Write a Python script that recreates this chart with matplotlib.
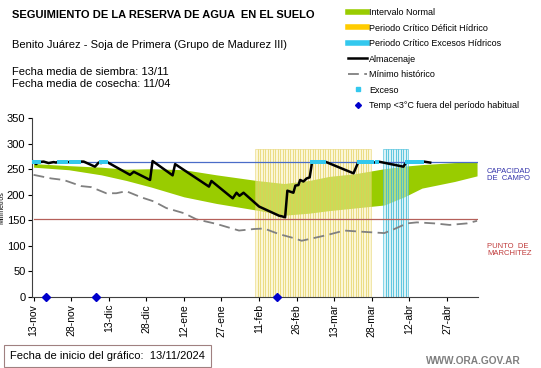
import numpy as np
import matplotlib
matplotlib.use("Agg")
from matplotlib import pyplot as plt
from matplotlib.lines import Line2D

plt.rcParams['font.family'] = ['Liberation Sans', 'DejaVu Sans']

# x axis = days since 13-nov
tick_days = [0, 15, 30, 45, 60, 75, 90, 105, 120, 135, 150, 165]
tick_labels = ['13-nov', '28-nov', '13-dic', '28-dic', '12-ene', '27-ene',
               '11-feb', '26-feb', '13-mar', '28-mar', '12-abr', '27-abr']

# intervalo normal
band_days = [0, 14, 27, 37, 47, 60, 73, 89, 100, 110, 118, 128, 140, 148, 155, 168, 177]
band_hi = [261, 257, 254, 250, 251, 249, 239, 228, 222, 228, 236, 241, 251, 256, 259, 263, 264]
band_lo = [254, 249, 239, 228, 215, 196, 183, 170, 160, 164, 169, 174, 180, 196, 213, 226, 237]

# almacenaje
alm_days = [0, 1, 2, 4, 6, 8, 9, 10, 13, 14, 18, 20, 24.5, 26, 27, 28, 29,
            38.5, 40, 46.5, 47.5, 55.5, 56.5, 70, 71, 79.5, 81, 82.2, 83.8,
            90, 98, 99, 100.4, 101.3, 103.7, 104.5, 105.7, 106.4, 107.7, 109,
            110.2, 111.2, 116.3, 127.7, 129.7, 135, 136, 137.6, 147.6, 149,
            155.7, 158.3]
alm_vals = [265, 260, 264, 265, 262, 264, 263, 265, 265, 264, 265, 265, 255,
            263, 262, 265, 265, 239, 245, 229, 266, 238, 260, 216, 227, 193,
            204, 198, 204, 177, 159, 158, 156, 208, 204, 218, 219, 229, 226,
            232, 234, 265, 265, 242, 265, 265, 263, 265, 255, 265, 265, 263]

# minimo historico
min_days = [0, 7, 12, 19, 23, 29, 33, 37, 43, 48, 53, 60, 65, 73, 82, 88, 92,
            98, 104, 107, 117, 124, 130, 140, 144, 149, 153, 160, 166, 173, 177]
min_vals = [239, 232, 229, 217, 215, 203, 203, 207, 195, 187, 174, 164, 152,
            143, 130, 133, 134, 123, 115, 110, 121, 130, 128, 125, 133, 144,
            146, 144, 141, 144, 149]

# excesos
exc_days = [0, 1, 2, 10, 11, 12, 13, 15, 16, 17, 18, 27, 28, 29,
            111, 112, 113, 114, 115, 116, 130, 131, 132, 133, 134, 135, 137,
            149, 150, 151, 152, 153, 154, 155]

# periodos criticos
def_days = list(range(89, 135))
excper_days = list(range(140, 150))
per_height = 290

# temp < 3C
frost_days = [5, 25, 97]

cc = 265
pmp = 152

fig = plt.figure(figsize=(5.41, 3.68), dpi=100)
ax = fig.add_axes([0.0597, 0.193, 0.8244, 0.486])

ax.fill_between(band_days, band_lo, band_hi, color='#99cc00', lw=0, zorder=1)
ax.bar(def_days, [per_height] * len(def_days), width=1.0, color='#f8eeb0',
       alpha=0.5, edgecolor='#e2cc50', lw=0.6, zorder=2)
ax.bar(excper_days, [per_height] * len(excper_days), width=1.0, color='#bfe8f0',
       alpha=0.55, edgecolor='#30b8d8', lw=0.7, zorder=2)
ax.plot(min_days, min_vals, color='#808080', lw=1.3, dashes=(6, 3), zorder=3)
ax.plot([0, 177], [cc, cc], color='#4a6cc8', lw=0.9, zorder=3)
ax.plot([0, 177], [pmp, pmp], color='#b5605a', lw=0.9, zorder=3)
ax.plot(alm_days, alm_vals, color='black', lw=1.8, zorder=5)
ax.plot(exc_days, [cc] * len(exc_days), ls='none', marker='s', ms=2.2, mew=0,
        color='#33c8ee', zorder=6)
ax.plot(frost_days, [0] * len(frost_days), ls='none', marker='D', ms=4.5,
        color='#0000cc', zorder=7, clip_on=False)

ax.set_xlim(-0.5, 177.5)
ax.set_ylim(0, 350)
ax.set_yticks(range(0, 351, 50))
ax.set_xticks(tick_days)
ax.set_xticklabels(tick_labels, rotation=90, fontsize=7.5)
ax.tick_params(axis='y', labelsize=8, length=3, pad=2)
ax.tick_params(axis='x', length=3, pad=2)
for s in ['top', 'right']:
    ax.spines[s].set_visible(False)
for s in ['left', 'bottom']:
    ax.spines[s].set_color('#404040')
ax.set_ylabel('Milímetros', fontsize=5, labelpad=1)

fig.text(0.022, 0.96, 'SEGUIMIENTO DE LA RESERVA DE AGUA  EN EL SUELO',
         fontsize=8, fontweight='bold', va='center')
fig.text(0.022, 0.877, 'Benito Juárez - Soja de Primera (Grupo de Madurez III)',
         fontsize=8, va='center')
fig.text(0.022, 0.805, 'Fecha media de siembra: 13/11', fontsize=8, va='center')
fig.text(0.022, 0.772, 'Fecha media de cosecha: 11/04', fontsize=8, va='center')

fig.text(0.9, 0.525, 'CAPACIDAD\nDE  CAMPO', fontsize=5.5, color='#3333aa',
         va='center', linespacing=1.1)
fig.text(0.9, 0.32, 'PUNTO  DE\nMARCHITEZ', fontsize=5.5, color='#c03a3a',
         va='center', linespacing=1.1)

handles = [
    Line2D([], [], color='#99cc00', lw=4),
    Line2D([], [], color='#ffcc00', lw=4),
    Line2D([], [], color='#33c8ee', lw=4),
    Line2D([], [], color='black', lw=1.8),
    Line2D([], [], color='#808080', lw=1.3, dashes=(6, 3)),
    Line2D([], [], ls='none', marker='s', ms=2.5, color='#33c8ee'),
    Line2D([], [], ls='none', marker='D', ms=3, color='#0000cc'),
]
labels = ['Intervalo Normal', 'Periodo Crítico Déficit Hídrico',
          'Periodo Crítico Excesos Hídricos', 'Almacenaje', 'Mínimo histórico',
          'Exceso', 'Temp <3°C fuera del período habitual']
fig.legend(handles, labels, loc='upper left', bbox_to_anchor=(0.632, 0.995),
           frameon=False, fontsize=6.5, handlelength=2.1, handletextpad=0.25,
           labelspacing=0.72, borderpad=0.2)

fig.text(0.018, 0.033, 'Fecha de inicio del gráfico:  13/11/2024', fontsize=8,
         va='center', bbox=dict(boxstyle='square,pad=0.55', fc='white',
                                ec='#a08080', lw=0.8))
fig.text(0.962, 0.018, 'WWW.ORA.GOV.AR', fontsize=7.3, fontweight='bold',
         color='#7f7f7f', ha='right', va='center')

plt.savefig('out.png', dpi=100)
